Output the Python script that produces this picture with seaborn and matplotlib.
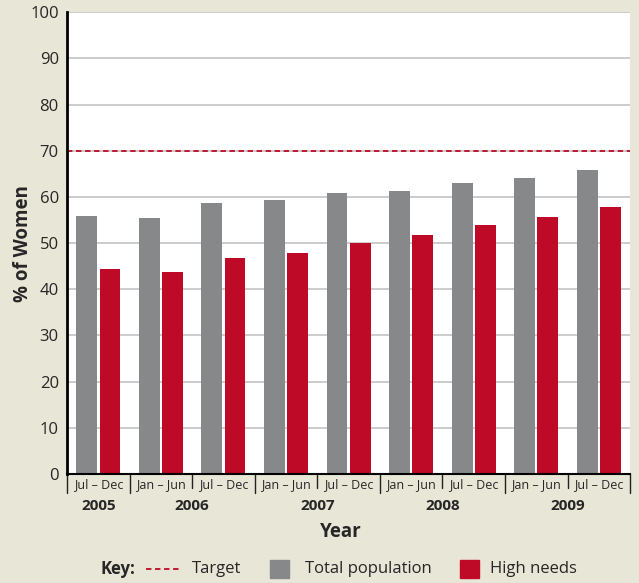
import seaborn as sns
import matplotlib.pyplot as plt
import pandas as pd

# Chart data
periods = ['Jul – Dec', 'Jan – Jun', 'Jul – Dec', 'Jan – Jun', 'Jul – Dec',
           'Jan – Jun', 'Jul – Dec', 'Jan – Jun', 'Jul – Dec']
years = ['2005', '2006', '2007', '2008', '2009']
year_spans = [(0, 0), (1, 2), (3, 4), (5, 6), (7, 8)]
total_population = [55.8, 55.4, 58.7, 59.3, 60.8, 61.3, 63.0, 64.1, 65.8]
high_needs = [44.4, 43.7, 46.8, 47.8, 50.0, 51.7, 53.9, 55.6, 57.8]
target = 70

bg = '#E8E6D6'
grey = '#87888A'
red = '#BE0A26'

sns.set_theme(style='white')
plt.rcParams['font.family'] = ['Open Sans', 'DejaVu Sans']

# long-form table for seaborn
slots = list(range(len(periods)))
df = pd.DataFrame({
    'slot': slots * 2,
    'value': total_population + high_needs,
    'series': ['Total population'] * len(slots) + ['High needs'] * len(slots),
})

fig = plt.figure(figsize=(6.39, 5.83), dpi=100, facecolor=bg)
ax = fig.add_axes([0.105, 0.187, 0.881, 0.792])
ax.set_facecolor('white')

sns.barplot(data=df, x='slot', y='value', hue='series',
            palette=[grey, red], width=0.74, gap=0.1, saturation=1,
            linewidth=0, legend=False, ax=ax, zorder=3)

ax.set_ylim(0, 100)
ax.set_xlim(-0.5, len(periods) - 0.5)
ax.set_yticks(range(0, 101, 10))
ax.yaxis.grid(True, color='#C4C4C4', linewidth=1.2, zorder=0)
ax.set_axisbelow(True)
ax.tick_params(axis='y', length=0, labelsize=12, pad=6)
ax.set_xticks(slots)
ax.set_xticklabels(periods, fontsize=9)
ax.tick_params(axis='x', length=0, pad=3)

ax.axhline(target, color=red, linestyle=(0, (3, 2)), linewidth=1.3, zorder=4)

for s in ['top', 'right']:
    ax.spines[s].set_visible(False)
for s in ['left', 'bottom']:
    ax.spines[s].set_color('black')
    ax.spines[s].set_zorder(5)
ax.spines['left'].set_linewidth(2)
ax.spines['bottom'].set_linewidth(1.5)

# separators under the period labels
trans = ax.get_xaxis_transform()
year_edges = [-0.5] + [b + 0.5 for a, b in year_spans]
for k in range(len(periods) + 1):
    x = k - 0.5
    depth = -0.042 if x in year_edges else -0.03
    ax.plot([x, x], [0, depth], transform=trans, color='#222222',
            linewidth=1, clip_on=False)

for name, (a, b) in zip(years, year_spans):
    ax.text((a + b) / 2, -0.07, name, transform=trans, ha='center',
            va='center', fontsize=11, fontweight='bold')

ax.set_xlabel('')
ax.set_ylabel('% of Women', fontsize=13.5, fontweight='bold', labelpad=-2)
fig.text(0.533, 0.087, 'Year', ha='center', va='center', fontsize=13.5,
         fontweight='bold')

# key
ky = 0.024
fig.text(0.157, ky, 'Key:', ha='left', va='center', fontsize=12, fontweight='bold')
fig.add_artist(plt.Line2D([0.229, 0.285], [ky, ky], color=red,
                          linestyle=(0, (3, 2)), linewidth=1.3))
fig.text(0.300, ky, 'Target', ha='left', va='center', fontsize=12)
fig.add_artist(plt.Rectangle((0.423, ky - 0.016), 0.029, 0.032,
                             color=grey, transform=fig.transFigure))
fig.text(0.478, ky, 'Total population', ha='left', va='center', fontsize=12)
fig.add_artist(plt.Rectangle((0.720, ky - 0.016), 0.029, 0.032,
                             color=red, transform=fig.transFigure))
fig.text(0.767, ky, 'High needs', ha='left', va='center', fontsize=12)

fig.savefig('out.png', dpi=100, facecolor=bg)
